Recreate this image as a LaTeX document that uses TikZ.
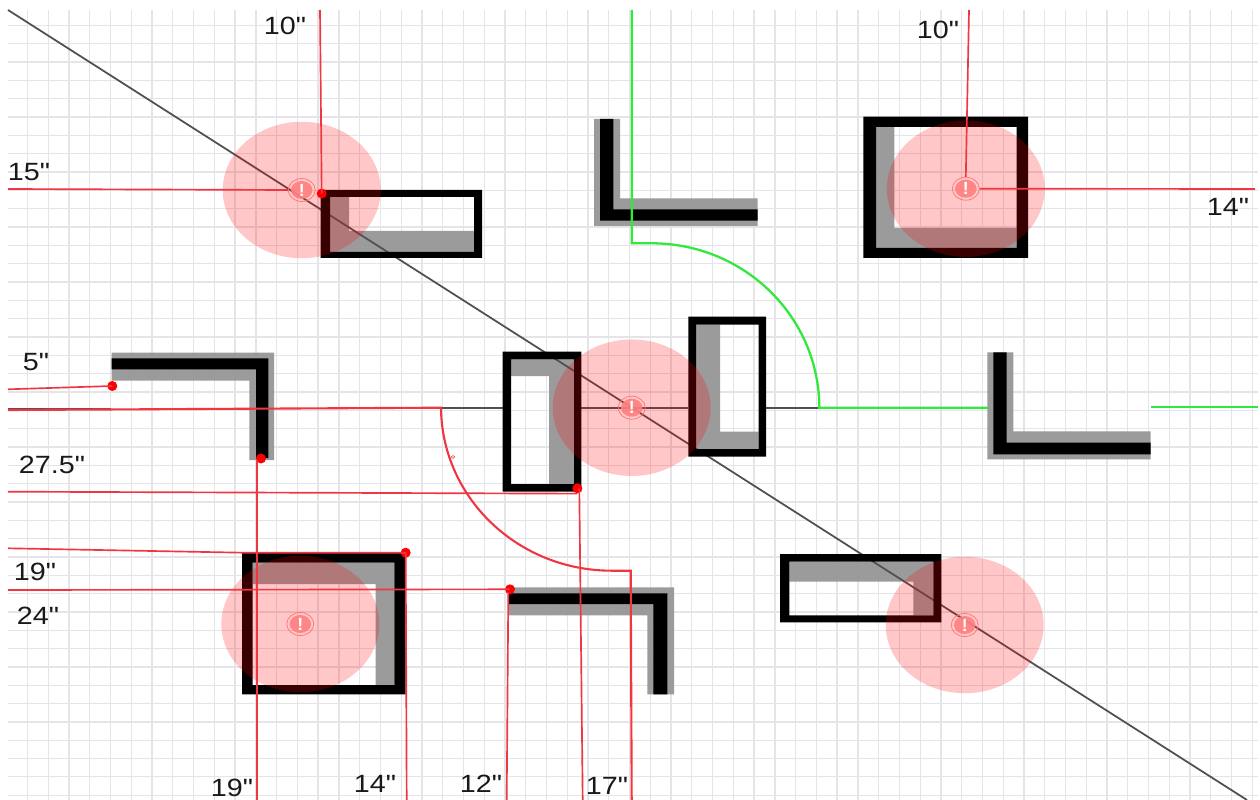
\documentclass[tikz,border=0pt]{standalone}
\usepackage{fontspec}
\newfontfamily\dimfont{Liberation Sans}
\usetikzlibrary{shapes.geometric}

\definecolor{wallgray}{RGB}{150,150,150}
\definecolor{gridgray}{RGB}{229,229,233}
\definecolor{axisgray}{RGB}{80,80,80}
\definecolor{dimred}{RGB}{240,55,65}
\definecolor{doorgreen}{RGB}{50,232,60}

\tikzset{
  wall/.style={fill=black, even odd rule},
  shade/.style={fill=wallgray, fill opacity=.95},
  gridline/.style={draw=gridgray, line width=.75pt},
  axis/.style={draw=axisgray, line width=1pt},
  dimline/.style={draw=dimred, line width=.95pt},
  doorred/.style={draw=dimred, line width=1.2pt},
  doorline/.style={draw=doorgreen, line width=1.3pt},
  zone/.style={ellipse, fill=red, fill opacity=.22, minimum width=3.16cm, minimum height=2.73cm, inner sep=0pt},
  sensor/.style={ellipse, fill=red!50, fill opacity=.9, text opacity=1, text=white, inner sep=0pt, minimum width=.43cm, minimum height=.36cm, font=\dimfont\bfseries\fontsize{10}{10}\selectfont},
  sensorring/.style={ellipse, draw=red!55, line width=.4pt, inner sep=0pt, minimum width=.54cm, minimum height=.46cm},
  reddot/.style={circle, fill=red, inner sep=0pt, minimum size=.2cm},
  dimlabel/.style={inner sep=0pt, xscale=1.15, transform shape, text=black!90, font=\dimfont\fontsize{14.2}{14.2}\selectfont},
}

\begin{document}
\begin{tikzpicture}[x=0.02cm, y=-0.02cm]
\useasboundingbox (0,0) rectangle (1260,800);
\fill[white] (0,0) rectangle (1260,800);

% grid
\foreach \gx in {0,...,59} {
  \draw[gridline] ({27.5+20.76*\gx},10) -- ({27.5+20.76*\gx},800);
}
\foreach \gy in {0,...,42} {
  \draw[gridline] (8,{25.3+18.33*\gy}) -- (1258,{25.3+18.33*\gy});
}

% shaded sides
\fill[shade] (330,197) rectangle (349,252) (349,231) rectangle (474,252);
\fill[shade] (876,127) rectangle (894.3,248) (894.3,228) rectangle (1016.7,248);
\fill[shade] (511,359.3) rectangle (574,376) (549,376) rectangle (574,484);
\fill[shade] (696,324.7) rectangle (720,449) (720,431.7) rectangle (758.7,449);
\fill[shade] (252.7,562.7) rectangle (394.3,584) (375.7,584) rectangle (394.3,685);
\fill[shade] (789.3,561.7) rectangle (933.3,581.7) (913.3,581.7) rectangle (933.3,615.3);
\fill[shade] (594,119) -- (620,119) -- (620,198.3) -- (757.7,198.3) -- (757.7,226) -- (594,226) -- cycle;
\fill[shade] (987.3,352.3) -- (1013.3,352.3) -- (1013.3,431.3) -- (1150.7,431.3) -- (1150.7,459.3) -- (987.3,459.3) -- cycle;
\fill[shade] (111.7,352.7) -- (274,352.7) -- (274,460) -- (249.3,460) -- (249.3,380.7) -- (111.7,380.7) -- cycle;
\fill[shade] (508.3,587.3) -- (674,587.3) -- (674,694.3) -- (647.3,694.3) -- (647.3,615.3) -- (508.3,615.3) -- cycle;

% free ends of the axes
\coordinate (axisNW) at (8,10);
\coordinate (axisSE) at (1247,800);
\coordinate (axisW) at (8,408.5);
\coordinate (axisWend) at (111,408.5);
\coordinate (axisA) at (441,407.7);
\coordinate (axisB) at (503,407.7);
\coordinate (axisC) at (581,407.7);
\coordinate (axisD) at (688,407.7);
\coordinate (axisE) at (766,407.7);
\coordinate (hingeG) at (820,407.7);

% axes
\draw[axis] (axisNW) -- (axisSE);
\draw[axis] (axisW) -- (axisWend);
\draw[axis] (axisA) -- (axisB);
\draw[axis] (axisC) -- (axisD);
\draw[axis] (axisE) -- (hingeG);

% walls
\fill[wall] (320.7,190) rectangle (482,258) (330,197) rectangle (474,252);
\fill[wall] (863.3,116.7) rectangle (1028,258) (876,127) rectangle (1016.7,248);
\fill[wall] (502.7,351.7) rectangle (581.3,491.7) (511,359.3) rectangle (574,484);
\fill[wall] (688.3,316.7) rectangle (766,456.7) (696,324.7) rectangle (758.7,449);
\fill[wall] (242,552.7) rectangle (405.7,694.3) (252.7,562.7) rectangle (394.3,685);
\fill[wall] (780,554) rectangle (941.3,622.3) (789.3,561.7) rectangle (933.3,615.3);
\fill[wall] (600,119) -- (613.3,119) -- (613.3,209.3) -- (757.7,209.3) -- (757.7,220.7) -- (600,220.7) -- cycle;
\fill[wall] (993.3,352.3) -- (1006.7,352.3) -- (1006.7,442.7) -- (1150.7,442.7) -- (1150.7,454.3) -- (993.3,454.3) -- cycle;
\fill[wall] (111.7,358.3) -- (268.3,358.3) -- (268.3,458) -- (256,458) -- (256,369.3) -- (111.7,369.3) -- cycle;
\fill[wall] (508.3,593.3) -- (667.3,593.3) -- (667.3,694.3) -- (653.3,694.3) -- (653.3,604) -- (508.3,604) -- cycle;

% coverage zones
\node[zone] (zoneNW) at (301.7,190) {};
\node[zone] (zoneNE) at (965.8,188.7) {};
\node[zone] (zoneC) at (631.7,407.7) {};
\node[zone] (zoneSW) at (300.3,624) {};
\node[zone] (zoneSE) at (964.7,625) {};

% sensors
\foreach \sname/\sx/\sy in {NW/301.7/190, NE/965.8/188.7, C/631.7/407.7, SW/300.3/624, SE/964.7/625} {
  \node[sensorring] (ring\sname) at (\sx,\sy) {};
  \node[sensor] (sensor\sname) at (\sx,\sy) {!};
}

% corner dots
\node[reddot] (dotA) at (321.7,193.5) {};
\node[reddot] (dotB) at (112.3,386) {};
\node[reddot] (dotC) at (261,458.5) {};
\node[reddot] (dotD) at (577.3,488.3) {};
\node[reddot] (dotE) at (405.7,552.7) {};
\node[reddot] (dotF) at (510,589.3) {};

% dimension lines
\draw[dimline] (320,10) -- (dotA.center);
\draw[dimline] (8,189) -- (ringNW.west);
\draw[dimline] (969,10) -- (ringNE.north);
\draw[dimline] (ringNE.east) -- (1255,189);
\draw[dimline] (8,389.3) -- (dotB.center);
\draw[dimline] (8,491.7) -- (dotD.south);
\draw[dimline] (dotD.center) ++(2,0) -- (582.7,800);
\draw[dimline] (8,548.3) -- (243,552.7) -- (dotE.center);
\draw[dimline] (dotE.center) -- (406.7,800);
\draw[dimline] (8,590) -- (dotF.center);
\draw[dimline] (508.3,592) -- (506.7,800);
\draw[dimline] (256.8,460) -- (256.8,800);

% red door swing
\draw[doorred] (8,410) -- (axisA) .. controls (441.7,497.7) and (517.8,570.7) .. (611.7,570.7) -- (630.7,570.7) -- (631.7,800);
\node[draw=dimred, line width=.3pt, ellipse, inner sep=0pt, minimum width=.07cm, minimum height=.06cm] (doorMark) at (453,457) {};

% green door swing
\draw[doorline] (631.7,10) -- (631.7,243.3) -- (651.7,243.3) .. controls (744.3,243.3) and (819.3,317) .. (819.3,407.7) -- (988,407.7);
\draw[doorline] (1151,407) -- (1258,407);

% labels
\node[dimlabel] (lblTopA) at (285,26) {10"};
\node[dimlabel] (lblTopB) at (938,30) {10"};
\node[dimlabel] (lblLeftA) at (29,172) {15"};
\node[dimlabel] (lblRightA) at (1228,207) {14"};
\node[dimlabel] (lblLeftB) at (36,362) {5"};
\node[dimlabel] (lblLeftC) at (52,465) {27.5"};
\node[dimlabel] (lblLeftD) at (35,572) {19"};
\node[dimlabel] (lblLeftE) at (38,616) {24"};
\node[dimlabel] (lblBotA) at (232,788) {19"};
\node[dimlabel] (lblBotB) at (375,784) {14"};
\node[dimlabel] (lblBotC) at (481,784) {12"};
\node[dimlabel] (lblBotD) at (607,786) {17"};
\end{tikzpicture}
\end{document}
